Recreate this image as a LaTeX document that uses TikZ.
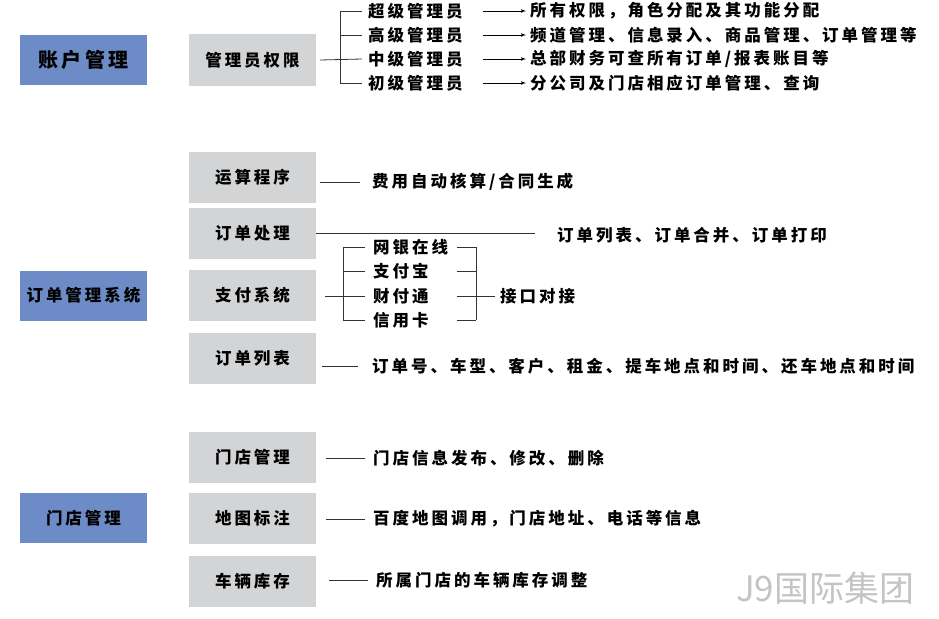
\documentclass[tikz,border=0pt]{standalone}
\usepackage{fontspec}
\newfontfamily\cjk{Noto Sans CJK SC}[LetterSpace=18]
\newfontfamily\cjkmark{Noto Sans CJK SC}
\usepackage{tikz}
\usetikzlibrary{arrows,positioning}

\definecolor{sysblue}{HTML}{6D8BC6}
\definecolor{modgray}{HTML}{D3D4D6}
\definecolor{markgray}{HTML}{C4C4C4}

\begin{document}
\begin{tikzpicture}[x=1pt,y=-1pt,>=latex',
  every node/.style={font=\cjk\bfseries\fontsize{16.5}{18}\selectfont},
  sysbox/.style={fill=sysblue,minimum width=127pt,minimum height=50pt,inner sep=0pt},
  modbox/.style={fill=modgray,minimum width=127pt,minimum height=51pt,inner sep=0pt},
  item/.style={anchor=west,inner sep=0pt},
  link/.style={draw=black!80,line width=0.8pt}]
  \useasboundingbox (0,0) rectangle (939,618);

  % left column
  \node[sysbox,font=\cjk\bfseries\fontsize{20}{22}\selectfont] (acct) at (83.5,60) {账户管理};
  \node[sysbox] (order) at (83.5,295.5) {订单管理系统};
  \node[sysbox] (shop) at (83.5,518) {门店管理};

  % account
  \node[modbox] (admin) at (252.5,60) {管理员权限};
  \coordinate (abr) at (340,0);
  \foreach \lv/\lvtxt/\lvdesc/\y in {super/超级管理员/{所有权限，角色分配及其功能分配}/11,
      high/高级管理员/{频道管理、信息录入、商品管理、订单管理等}/35,
      mid/中级管理员/{总部财务可查所有订单/报表账目等}/59,
      low/初级管理员/{分公司及门店相应订单管理、查询}/83} {
    \node[item] (\lv) at (368,\y) {\lvtxt};
    \node[item] (\lv d) at (530,\y) {\lvdesc};
    \draw[->,line width=0.8pt] (483,\y) -- ([xshift=-4pt]\lv d.west);
  }
  \draw[link] ([xshift=-6pt]super.west) -- (super.west -| abr) -- (low.west -| abr) -- ([xshift=-6pt]low.west);
  \draw[link] ([xshift=-6pt]high.west) -- (high.west -| abr);
  \draw[link] ([xshift=4pt]admin.east) -- ([xshift=-6pt]mid.west);

  % order system
  \node[modbox] (calc) at (252.5,177) {运算程序};
  \node[modbox] (proc) at (252.5,233) {订单处理};
  \node[modbox] (pay) at (252.5,295.5) {支付系统};
  \node[modbox] (list) at (252.5,358.5) {订单列表};

  \node[item] (calcd) at (372,182) {费用自动核算/合同生成};
  \draw[link] ([xshift=4pt]calc.east |- calcd.west) -- ([xshift=-12pt]calcd.west);
  \node[item] (procd) at (557,235) {订单列表、订单合并、订单打印};
  \draw[link] (proc.east) -- ([xshift=-22pt]procd.west |- proc.east);
  \node[item] (listd) at (372,366) {订单号、车型、客户、租金、提车地点和时间、还车地点和时间};
  \draw[link] ([xshift=6pt]list.east |- listd.west) -- ([xshift=-14pt]listd.west);

  % payment bracket
  \coordinate (pbl) at (343,0);
  \coordinate (pbs) at (457,0);
  \coordinate (pbr) at (476,0);
  \foreach \pw/\pwtxt/\y in {bank/网银在线/247, ali/支付宝/271, ten/财付通/296, card/信用卡/320} {
    \node[item] (\pw) at (373,\y) {\pwtxt};
    \draw[link] ([xshift=-8pt]\pw.west) -- (\pw.west -| pbl);
    \draw[link] (\pw.west -| pbs) -- (\pw.west -| pbr);
  }
  \draw[link] (bank.west -| pbl) -- (card.west -| pbl);
  \draw[link] (bank.west -| pbr) -- (card.west -| pbr);
  \draw[link] ([xshift=9pt]pay.east |- ten.west) -- (ten.west -| pbl);
  \node[item] (iface) at (500,296) {接口对接};
  \draw[link] (ten.west -| pbr) -- ([xshift=-5pt]iface.west);

  % shops
  \node[modbox] (shopm) at (252.5,457) {门店管理};
  \node[modbox] (map) at (252.5,518) {地图标注};
  \node[modbox] (stock) at (252.5,581) {车辆库存};
  \node[item] (shopmd) at (373,458) {门店信息发布、修改、删除};
  \node[item] (mapd) at (373,519) {百度地图调用，门店地址、电话等信息};
  \node[item] (stockd) at (376,580) {所属门店的车辆库存调整};
  \foreach \md in {shopmd,mapd,stockd}
    \draw[link] ([xshift=-8pt]\md.west) -- ([xshift=-47pt]\md.west);

  % watermark
  \node[item,font=\cjkmark\fontsize{35}{38}\selectfont,text=markgray] (mark) at (736,588) {J9国际集团};
\end{tikzpicture}
\end{document}
